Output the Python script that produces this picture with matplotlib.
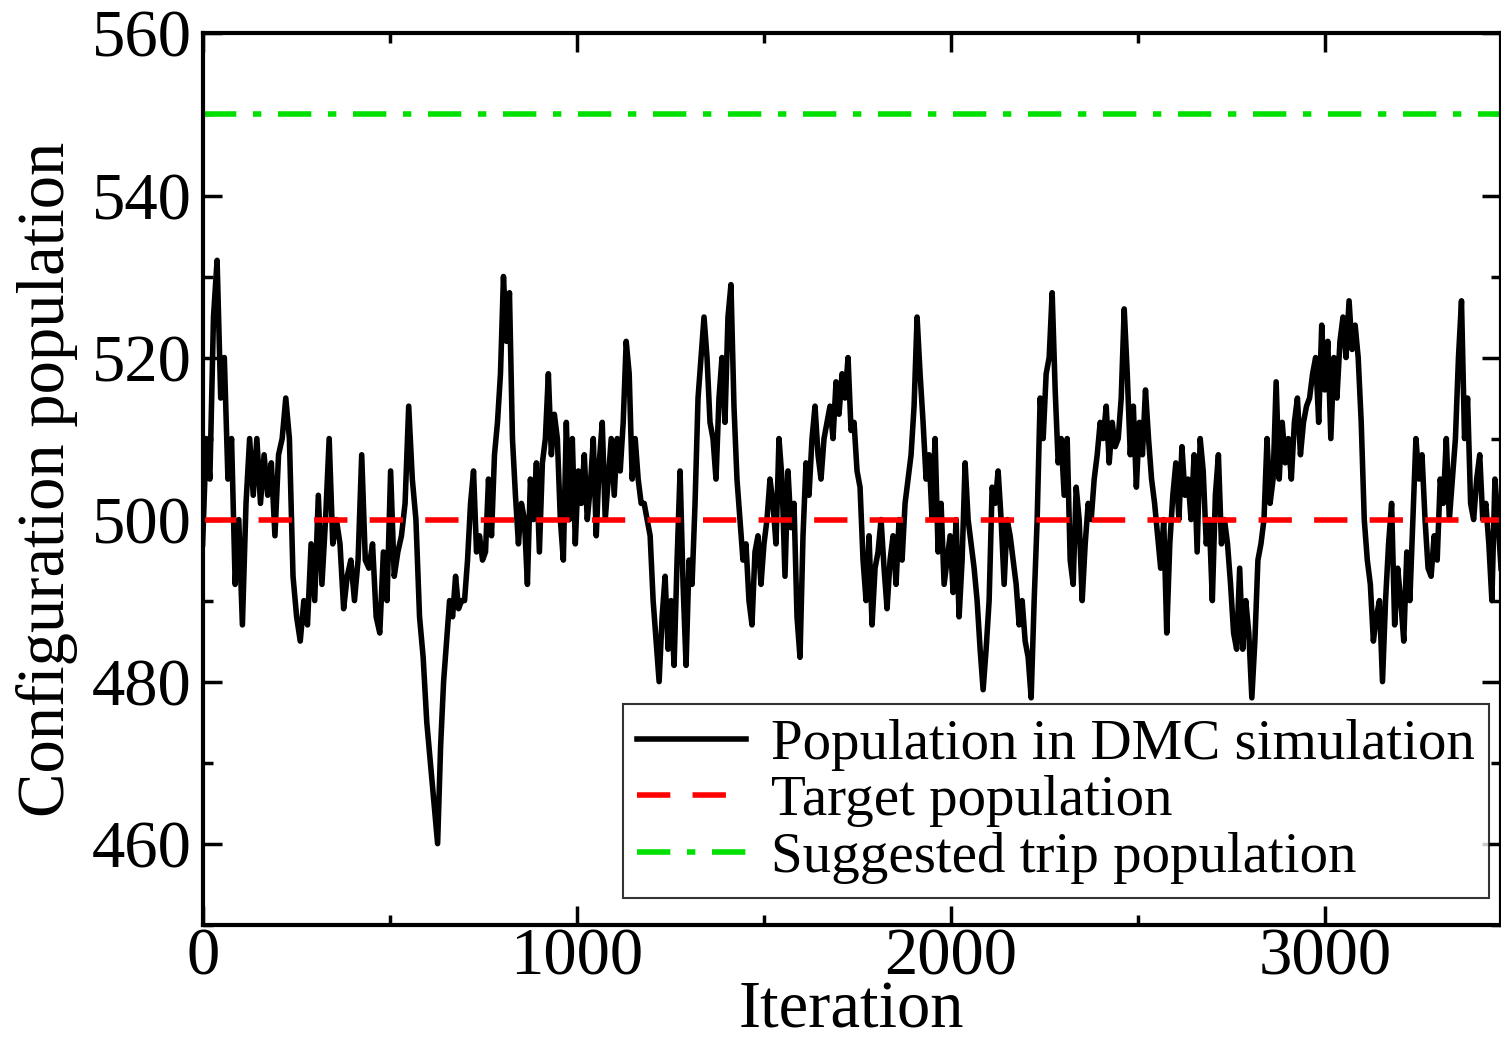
import numpy as np
import matplotlib
matplotlib.use("Agg")
import matplotlib.pyplot as plt
from matplotlib.ticker import MultipleLocator

population = [497,510,505,525,532,515,520,505,510,492,500,487,502,510,503,510,502,508,503,507,498,508,510,515,510,493,488,485,490,487,497,490,503,492,500,510,497,500,497,489,493,495,490,495,508,495,494,497,488,486,496,490,506,493,496,498,502,514,505,500,488,483,475,470,465,460,472,480,485,490,488,493,489,490,490,495,502,506,496,498,495,496,505,498,508,512,518,530,522,528,510,503,497,502,500,492,505,500,507,496,507,510,518,508,513,510,500,495,512,500,510,497,506,502,508,500,504,510,498,507,512,500,505,510,503,510,506,512,522,518,505,510,505,502,502,500,498,490,485,480,488,493,484,490,482,495,506,492,482,495,492,502,515,520,525,520,512,510,505,515,520,512,525,529,514,505,500,495,497,490,487,496,498,492,497,500,505,502,497,510,505,493,506,499,502,488,483,498,507,503,510,514,508,505,510,512,514,510,517,513,518,515,520,511,512,506,504,495,490,498,487,494,496,500,494,489,495,498,492,500,495,502,505,508,514,525,518,512,505,508,500,510,496,502,492,495,498,491,500,488,495,507,500,497,494,490,484,479,484,490,504,502,506,500,492,500,498,495,492,487,490,485,483,478,490,500,515,510,518,520,528,516,507,510,503,510,495,492,504,500,490,497,502,500,505,508,512,510,514,507,512,509,510,515,526,518,508,514,504,512,508,516,510,505,502,498,494,500,486,497,503,507,500,509,503,505,500,508,496,510,506,497,500,490,503,508,497,500,497,492,486,484,494,484,490,486,478,485,495,497,500,510,502,505,517,505,512,507,510,505,512,515,508,512,514,515,518,520,512,524,516,522,510,520,515,522,525,520,527,521,524,520,512,500,495,492,485,488,490,480,490,497,502,487,494,490,485,496,490,500,510,505,508,500,494,493,498,495,505,502,510,500,505,510,520,527,510,515,502,500,505,508,500,502,497,490,505,500,494]
x_max = 3470
# iteration reached at a few recognisable features (min at 460, peaks 529 and 526)
knot_values = [460, 529, 526]
knot_iters = [628, 1412, 2463]
knot_idx = [0] + [population.index(v) for v in knot_values] + [len(population) - 1]
iteration = np.interp(np.arange(len(population)), knot_idx, [0] + knot_iters + [x_max])
target = 500
trip = 550

plt.rcParams['font.family'] = ['Liberation Serif', 'DejaVu Serif']
fig = plt.figure(figsize=(15.01, 10.46), dpi=100)
ax = fig.add_axes([0.135, 0.116, 0.865, 0.852])
ax.plot(iteration, population, color='black', lw=4, label='Population in DMC simulation')
ax.axhline(target, color='#ff0000', lw=4, dashes=(6, 4), label='Target population')
ax.axhline(trip, color='#00e000', lw=4, dashes=(6, 3, 1.5, 3), label='Suggested trip population')
ax.set_xlim(0, x_max)
ax.set_ylim(450, 560)
ax.xaxis.set_major_locator(MultipleLocator(1000))
ax.xaxis.set_minor_locator(MultipleLocator(500))
ax.yaxis.set_major_locator(MultipleLocator(20))
ax.yaxis.set_minor_locator(MultipleLocator(10))
ax.tick_params(which='both', direction='in', top=True, right=True, width=2.5, labelsize=48)
ax.tick_params(which='major', length=14)
ax.tick_params(which='minor', length=7)
ax.tick_params(axis='y', pad=8)
ax.tick_params(axis='x', pad=2)
for s in ax.spines.values():
    s.set_linewidth(3)
ax.set_xlabel('Iteration', fontsize=48, labelpad=-6)
ax.set_ylabel('Configuration population', fontsize=48, labelpad=10)
leg = ax.legend(loc='lower right', bbox_to_anchor=(0.991, 0.03), fontsize=41, frameon=True,
                fancybox=False, edgecolor='black', handlelength=1.9, borderpad=0.25,
                labelspacing=0.08, handletextpad=0.45, borderaxespad=0)
leg.get_frame().set_linewidth(1.5)
fig.savefig('out.png', dpi=100)
